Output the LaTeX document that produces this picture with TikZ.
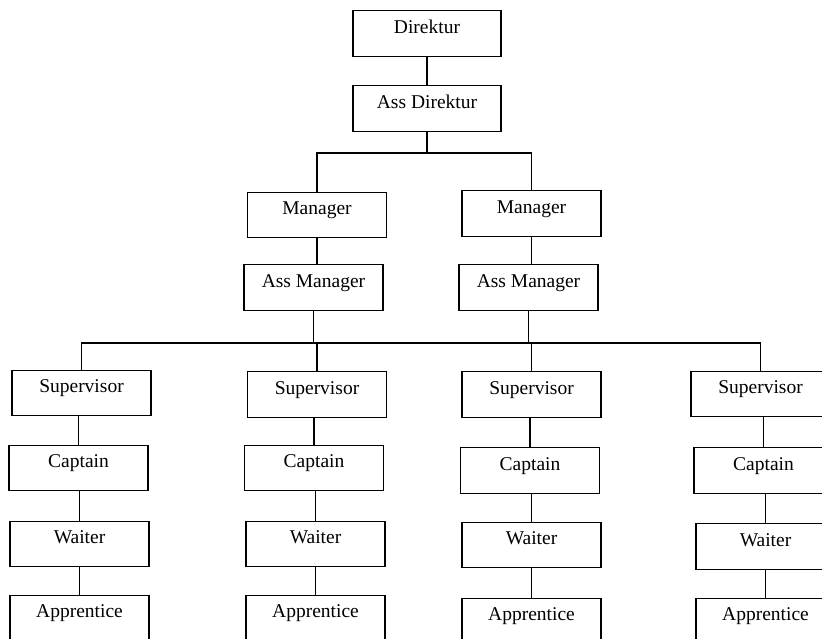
\documentclass[tikz,border=0pt]{standalone}
\usepackage{fontspec}
\setmainfont{Liberation Serif}
\usepackage{tikz}

\begin{document}
\begin{tikzpicture}[x=1pt,y=-1pt,line width=1.1pt,
  box/.style={draw,line width=1.1pt,inner sep=0pt,minimum width=139pt,
    text height=22.5pt,text depth=23pt,font=\fontsize{19.5}{22}\selectfont}]
\clip (0,0) rectangle (822,638);
\fill[white] (0,0) rectangle (822,638);
% top
\node[box,minimum width=148pt] (dir) at (427,33.5) {Direktur};
\node[box,minimum width=148pt] (adir) at (427,108.5) {Ass Direktur};
\node[box] (man1) at (317,215) {Manager};
\node[box] (man2) at (531.5,213.5) {Manager};
\node[box] (aman1) at (313.5,287.5) {Ass Manager};
\node[box] (aman2) at (528.5,287.5) {Ass Manager};
% columns
\node[box] (sup1) at (81.5,393) {Supervisor};
\node[box] (cap1) at (78.5,468) {Captain};
\node[box] (wai1) at (79.5,544) {Waiter};
\node[box] (app1) at (79.5,618) {Apprentice};
\node[box] (sup2) at (317,394.5) {Supervisor};
\node[box] (cap2) at (314,468) {Captain};
\node[box] (wai2) at (315.5,544) {Waiter};
\node[box] (app2) at (315.5,618) {Apprentice};
\node[box] (sup3) at (531.5,394.5) {Supervisor};
\node[box] (cap3) at (530,470.5) {Captain};
\node[box] (wai3) at (531.5,545) {Waiter};
\node[box] (app3) at (531.5,621) {Apprentice};
\node[box] (sup4) at (760.5,394) {Supervisor};
\node[box] (cap4) at (763.5,470.5) {Captain};
\node[box] (wai4) at (765.5,546.5) {Waiter};
\node[box] (app4) at (765.5,621) {Apprentice};
% junctions
\coordinate (j1) at (423,153);
\coordinate (j2) at (0,343);
\draw (dir.south) -- (adir.north);
\draw (adir.south) -- (adir.south |- j1);
\draw (man1.north) -- (man1.north |- j1) -- (man2.north |- j1) -- (man2.north);
\draw (man1.south) -- (aman1.north -| man1.south);
\draw (man2.south) -- (aman2.north -| man2.south);
\draw (aman1.south) -- (aman1.south |- j2);
\draw (aman2.south) -- (aman2.south |- j2);
\draw (sup1.north) -- (sup1.north |- j2) -- (sup4.north |- j2) -- (sup4.north);
\draw (sup2.north) -- (sup2.north |- j2);
\draw (sup3.north) -- (sup3.north |- j2);
\draw (cap1.north) -- (cap1.north |- sup1.south);
\draw (wai1.north) -- (wai1.north |- cap1.south);
\draw (app1.north) -- (app1.north |- wai1.south);
\draw (cap2.north) -- (cap2.north |- sup2.south);
\draw (wai2.north) -- (wai2.north |- cap2.south);
\draw (app2.north) -- (app2.north |- wai2.south);
\draw (cap3.north) -- (cap3.north |- sup3.south);
\draw (wai3.north) -- (wai3.north |- cap3.south);
\draw (app3.north) -- (app3.north |- wai3.south);
\draw (cap4.north) -- (cap4.north |- sup4.south);
\draw (wai4.north) -- (wai4.north |- cap4.south);
\draw (app4.north) -- (app4.north |- wai4.south);
\end{tikzpicture}
\end{document}
